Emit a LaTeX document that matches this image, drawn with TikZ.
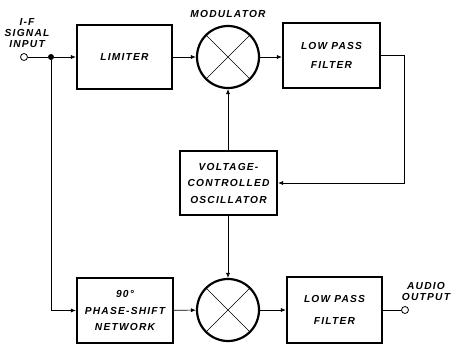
\documentclass[tikz,border=0pt]{standalone}
\usepackage{fontspec}
\newfontfamily\lettering{Liberation Sans}[LetterSpace=12]
\usetikzlibrary{
    arrows.meta,
    positioning,
    calc
}
\tikzset{
    % --- Functional block (limiter, filter, VCO, phase shift) ---
    block/.style = {
        rectangle, draw, line width=2.2pt,
        minimum width=96pt, minimum height=64pt,
        font=\lettering\itshape\bfseries\fontsize{10.2}{16.5}\selectfont,
        align=center, inner sep=0pt
    },
    % --- Mixer circle with cross ---
    mixer/.style = {
        circle, draw, line width=2.2pt,
        minimum size=62pt, inner sep=0pt,
        path picture={
            \draw[line width=0.6pt]
                (path picture bounding box.north east) -- (path picture bounding box.south west)
                (path picture bounding box.north west) -- (path picture bounding box.south east);
        }
    },
    % --- Terminal (open circle) ---
    terminal/.style = {
        circle, draw, line width=0.8pt,
        minimum size=7pt, inner sep=0pt, fill=white
    },
    % --- Wire junction dot ---
    dot/.style = {
        circle, fill=black,
        minimum size=6pt, inner sep=0pt
    },
    % --- Port / block label ---
    port/.style = {
        font=\lettering\itshape\bfseries\fontsize{10.2}{11}\selectfont,
        align=center, inner sep=0pt
    },
    % --- Signal wire with arrow ---
    wire/.style = {
        -{Latex[length=5pt,width=4pt]}, line width=0.6pt
    },
    % --- Plain wire ---
    plain/.style = {
        line width=0.6pt
    }
}

\begin{document}
\begin{tikzpicture}[x=1pt, y=-1pt]

\useasboundingbox (0,0) rectangle (451,346);

% ---------------------------------------------------------
% Input port
% ---------------------------------------------------------
\node[terminal] (IfIn) at (24, 57) {};
\node[port] (IfLabel) at (27, 33) {I-F\\SIGNAL\\INPUT};
\node[dot] (Split) at (51, 57) {};

% ---------------------------------------------------------
% Upper branch: limiter, modulator, low pass filter
% ---------------------------------------------------------
\node[block, minimum width=95pt] (Limiter) at (124.5, 57) {LIMITER};
\node[mixer] (Mod) at (228, 57) {};
\node[port] (ModLabel) at (228, 14) {MODULATOR};
\node[block, minimum width=97pt, minimum height=65pt] (LpfUp) at (331.5, 55.5) {LOW PASS\\[2.5pt]FILTER};

\draw[plain] (IfIn) -- (Split);
\draw[wire] (Split) -- (Limiter);
\draw[wire] (Limiter) -- (Mod);
\draw[wire] (Mod) -- (LpfUp.west |- Mod);

% ---------------------------------------------------------
% Voltage-controlled oscillator with feedback
% ---------------------------------------------------------
\node[block, minimum width=97pt] (Vco) at (228.5, 183) {VOLTAGE-\\CONTROLLED\\OSCILLATOR};
\coordinate (FbCorner) at (404, 55.5);

\draw[wire] (LpfUp.east) -- (FbCorner) |- (Vco.east);
\draw[wire] (Vco.north -| Mod) -- (Mod.south);

% ---------------------------------------------------------
% Lower branch: phase shift, mixer, low pass filter
% ---------------------------------------------------------
\node[block, minimum height=65pt] (Phase) at (125, 310.5) {90°\\PHASE-SHIFT\\NETWORK};
\node[mixer] (Mix) at (228, 310) {};
\node[block, minimum width=95pt, minimum height=66pt] (LpfLow) at (334.5, 310) {LOW PASS\\[5pt]FILTER};
\node[terminal] (AudioOut) at (405, 310) {};
\node[port] (OutLabel) at (426, 291) {AUDIO\\OUTPUT};

\draw[wire] (Split) |- (Phase.west);
\draw[wire] (Vco.south -| Mix) -- (Mix.north);
\draw[wire] (Phase) -- (Mix);
\draw[wire] (Mix) -- (LpfLow);
\draw[plain] (LpfLow) -- (AudioOut);

\end{tikzpicture}
\end{document}
